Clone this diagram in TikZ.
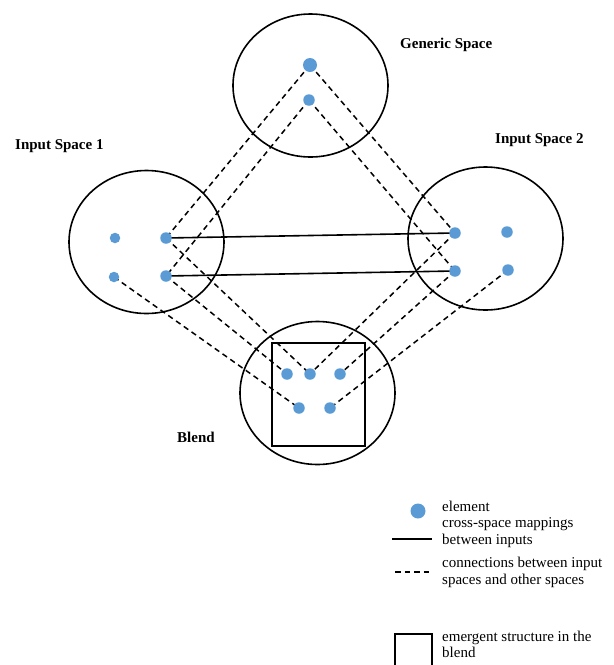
\documentclass[tikz,border=0pt]{standalone}
\usepackage{fontspec}
\setmainfont{Liberation Serif}
\usetikzlibrary{shapes.geometric,positioning,backgrounds}
\definecolor{elemblue}{RGB}{91,155,213}

\begin{document}
\begin{tikzpicture}[x=1pt, y=-1pt]

\tikzset{
  space/.style={draw, ellipse, line width=1.6pt, minimum width=155pt, minimum height=143pt, inner sep=0},
  elem/.style={circle, fill=elemblue, inner sep=0, minimum size=11.5pt},
  lbl/.style={anchor=west, inner sep=0, font={\fontsize{15}{17}\selectfont\bfseries}},
  legtext/.style={anchor=west, inner sep=0, align=left, font={\fontsize{15}{16.5}\selectfont}},
  % connector line styles
  cross/.style={draw, line width=1.6pt},
  conn/.style={draw, line width=1.5pt, dash pattern=on 5.5pt off 4pt}
}

  \useasboundingbox (0,0) rectangle (614,665);

  % the four spaces
  \node[space] (generic) at (310.5,85.5) {};
  \node[space] (input1) at (146.5,242) {};
  \node[space] (input2) at (485.5,238.5) {};
  \node[space] (blend) at (317.5,393) {};
  \node[draw, line width=1.6pt, minimum width=93pt, minimum height=103pt, inner sep=0] (emergent) at (318.5,394.5) {};

  \node[lbl] (generic_lbl) at (400,45) {Generic Space};
  \node[lbl] (input1_lbl) at (15,146) {Input Space 1};
  \node[lbl] (input2_lbl) at (495,140) {Input Space 2};
  \node[lbl] (blend_lbl) at (177,437) {Blend};

  % elements
  \node[elem, minimum size=14pt] (gen_a) at (310,65) {};
  \node[elem] (gen_b) at (309,100) {};
  \node[elem, minimum size=10.5pt] (in1_a) at (115,238) {};
  \node[elem] (in1_b) at (166,238) {};
  \node[elem, minimum size=10.5pt] (in1_c) at (114,277) {};
  \node[elem] (in1_d) at (166,276) {};
  \node[elem] (in2_a) at (455,233) {};
  \node[elem] (in2_b) at (507,232) {};
  \node[elem] (in2_c) at (455,271) {};
  \node[elem] (in2_d) at (508,270) {};
  \node[elem] (bl_a) at (287,374) {};
  \node[elem] (bl_b) at (310,374) {};
  \node[elem] (bl_c) at (340,374) {};
  \node[elem] (bl_d) at (299,408) {};
  \node[elem] (bl_e) at (330,408) {};

  \begin{pgfonlayer}{background}
    \path[cross] (in1_b.center) -- (in2_a.center);
    \path[cross] (in1_d.center) -- (in2_c.center);

    \path[conn] (gen_a.center) -- (in1_b.center);
    \path[conn] (gen_b.center) -- (in1_d.center);
    \path[conn] (gen_a.center) -- (in2_a.center);
    \path[conn] (gen_b.center) -- (in2_c.center);

    \path[conn] (in1_b.center) -- (bl_b.center);
    \path[conn] (in1_d.center) -- (bl_a.center);
    \path[conn] (in1_c.center) -- (bl_d.center);
    \path[conn] (in2_a.center) -- (bl_b.center);
    \path[conn] (in2_c.center) -- (bl_c.center);
    \path[conn] (in2_d.center) -- (bl_e.center);
  \end{pgfonlayer}

  % legend
  \node[elem, minimum size=15pt] (leg_elem) at (418,511) {};
  \node[legtext] (leg_elem_txt) at (442,506) {element};

  \coordinate (leg_cross_a) at (392,539);
  \coordinate (leg_cross_b) at (432,539);
  \path[cross] (leg_cross_a) -- (leg_cross_b);
  \node[legtext] (leg_cross_txt) at (442,532.5) {cross-space mappings\\between inputs};

  \coordinate (leg_conn_a) at (395,572);
  \coordinate (leg_conn_b) at (431,572);
  \path[conn] (leg_conn_a) -- (leg_conn_b);
  \node[legtext] (leg_conn_txt) at (442,572.5) {connections between input\\spaces and other spaces};

  \node[draw, line width=1.6pt, minimum width=37pt, minimum height=44pt, inner sep=0, anchor=north west] (leg_box) at (394,633) {};
  \node[legtext] (leg_box_txt) at (442,644.5) {emergent structure in the\\blend};

\end{tikzpicture}
\end{document}
